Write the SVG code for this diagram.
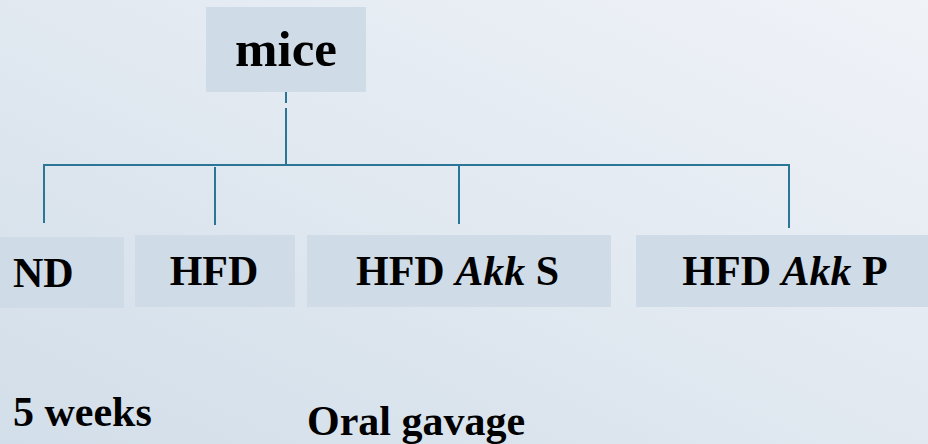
<svg xmlns="http://www.w3.org/2000/svg" width="928" height="444" viewBox="0 0 928 444">
<defs>
<linearGradient id="bg" x1="0" y1="1" x2="1" y2="0">
<stop offset="0" stop-color="#d2dee9"/>
<stop offset="1" stop-color="#f0f3f8"/>
</linearGradient>
</defs>
<style>
.box{fill:#cfdbe6;}
.t{font-family:"Liberation Serif","Times New Roman",serif;font-weight:bold;fill:#000;font-size:42px;}
.c{stroke:#2b7597;stroke-width:2;fill:none;}
</style>
<rect x="0" y="0" width="928" height="444" fill="url(#bg)"/>
<g id="connectors">
<line class="c" x1="286" y1="91" x2="286" y2="103"/>
<line class="c" x1="286" y1="108" x2="286" y2="165"/>
<line class="c" x1="43" y1="165" x2="790" y2="165"/>
<line class="c" x1="44" y1="165" x2="44" y2="223"/>
<line class="c" x1="215" y1="167" x2="215" y2="225"/>
<line class="c" x1="459" y1="165" x2="459" y2="224"/>
<line class="c" x1="789" y1="165" x2="789" y2="228"/>
</g>
<g id="mice">
<rect class="box" x="206" y="7" width="160" height="85"/>
<text class="t" x="286" y="66" text-anchor="middle" style="font-size:51px">mice</text>
</g>
<g id="nd">
<rect class="box" x="0" y="237" width="124" height="71"/>
<text class="t" x="13" y="287">ND</text>
</g>
<g id="hfd">
<rect class="box" x="135" y="235" width="160" height="72"/>
<text class="t" x="214" y="285" text-anchor="middle">HFD</text>
</g>
<g id="hfd-akk-s">
<rect class="box" x="307" y="235" width="304" height="72"/>
<text class="t" x="457.5" y="285" text-anchor="middle">HFD <tspan font-style="italic">Akk</tspan> S</text>
</g>
<g id="hfd-akk-p">
<rect class="box" x="636" y="235" width="292" height="72"/>
<text class="t" x="785" y="285" text-anchor="middle">HFD <tspan font-style="italic">Akk</tspan> P</text>
</g>
<g id="labels">
<text class="t" x="13" y="426">5 weeks</text>
<text class="t" x="307" y="435">Oral gavage</text>
</g>
</svg>
